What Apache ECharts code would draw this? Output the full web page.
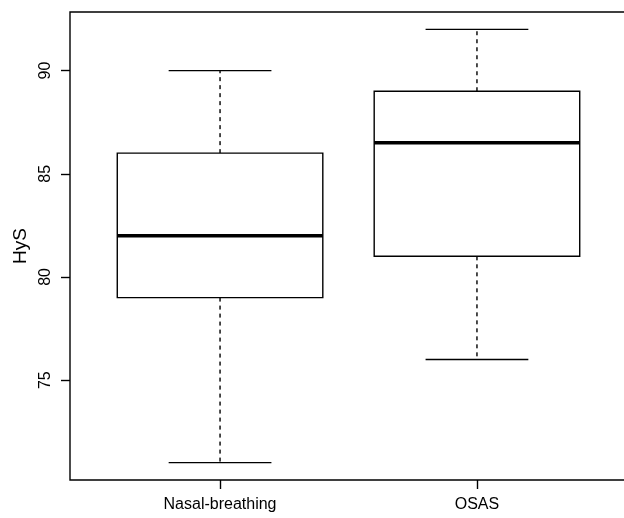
<!DOCTYPE html>
<html>
<head>
<meta charset="utf-8">
<script src="https://cdn.jsdelivr.net/npm/echarts@6/dist/echarts.min.js"></script>
<style>html,body{margin:0;padding:0;background:#fff}#c{width:624px;height:518px}</style>
</head>
<body>
<div id="c"></div>
<script>
const categories = ['Nasal-breathing', 'OSAS'];
const whiskerLow = [71, 76];
const quartile1 = [79, 81];
const medians = [82, 86.5];
const quartile3 = [86, 89];
const whiskerHigh = [90, 92];
const yTicks = [75, 80, 85, 90];
const yName = 'HyS';

const boxData = categories.map((c, i) => [i + 1, whiskerLow[i], quartile1[i], medians[i], quartile3[i], whiskerHigh[i]]);

const chart = echarts.init(document.getElementById('c'), null, {renderer: 'canvas'});
const FONT = 'Liberation Sans, Arial, Helvetica, sans-serif';

function renderItem(params, api) {
  const x = api.value(0);
  const lo = api.value(1), q1 = api.value(2), md = api.value(3), q3 = api.value(4), hi = api.value(5);
  const boxW = 0.8, capW = 0.4;
  const pL = api.coord([x - boxW / 2, q1]);
  const pR = api.coord([x + boxW / 2, q3]);
  const pc = api.coord([x, md]);
  const cx = pc[0];
  const yLo = api.coord([x, lo])[1], yQ1 = pL[1], yMd = pc[1], yQ3 = pR[1], yHi = api.coord([x, hi])[1];
  const capL = api.coord([x - capW / 2, lo])[0], capR = api.coord([x + capW / 2, lo])[0];
  const solid = {stroke: '#000', lineWidth: 1.4, fill: null};
  const dashed = {stroke: '#000', lineWidth: 1.4, lineDash: [4, 4]};
  return {
    type: 'group',
    children: [
      {type: 'line', shape: {x1: cx, y1: yQ3, x2: cx, y2: yHi}, style: dashed},
      {type: 'line', shape: {x1: cx, y1: yQ1, x2: cx, y2: yLo}, style: dashed},
      {type: 'line', shape: {x1: capL, y1: yHi, x2: capR, y2: yHi}, style: solid},
      {type: 'line', shape: {x1: capL, y1: yLo, x2: capR, y2: yLo}, style: solid},
      {type: 'rect', shape: {x: pL[0], y: yQ3, width: pR[0] - pL[0], height: yQ1 - yQ3}, style: {stroke: '#000', lineWidth: 1.4, fill: '#fff'}},
      {type: 'line', shape: {x1: pL[0], y1: yMd, x2: pR[0], y2: yMd}, style: {stroke: '#000', lineWidth: 3.5}}
    ]
  };
}

chart.setOption({
  animation: false,
  backgroundColor: '#fff',
  grid: {left: 70, top: 12, right: -3, bottom: 38, outerBoundsMode: 'none', containLabel: false, show: true, borderColor: '#000', borderWidth: 1.4, backgroundColor: 'transparent'},
  xAxis: {
    type: 'value', min: 0.416, max: 2.584,
    splitLine: {show: false},
    axisLine: {show: false},
    axisTick: {show: true, length: 9, customValues: [1, 2], lineStyle: {color: '#000', width: 1.4}},
    axisLabel: {customValues: [1, 2], formatter: v => categories[Math.round(v) - 1] || '', color: '#000', fontSize: 16, fontFamily: FONT, margin: 17}
  },
  yAxis: {
    type: 'value', min: 70.16, max: 92.84,
    name: yName, nameLocation: 'middle', nameGap: 40, nameRotate: 90,
    nameTextStyle: {color: '#000', fontSize: 19, fontFamily: FONT},
    splitLine: {show: false},
    axisLine: {show: false},
    axisTick: {show: true, length: 9, customValues: yTicks, lineStyle: {color: '#000', width: 1.4}},
    axisLabel: {customValues: yTicks, rotate: 90, color: '#000', fontSize: 16, fontFamily: FONT, margin: 16}
  },
  series: [{
    type: 'custom',
    renderItem: renderItem,
    data: boxData,
    encode: {x: 0, y: [1, 2, 3, 4, 5]},
    clip: false
  }]
});
</script>
</body>
</html>
